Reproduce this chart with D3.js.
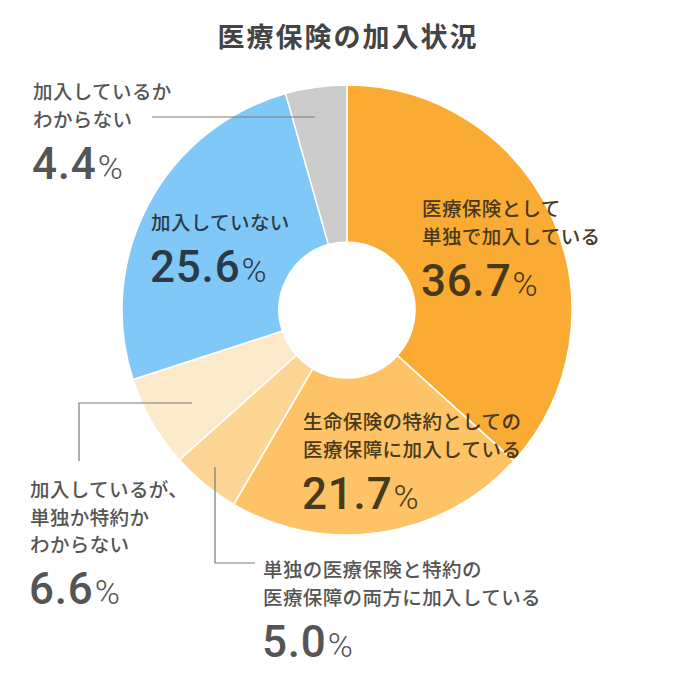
<!DOCTYPE html>
<html><head><meta charset="utf-8">
<script src="https://cdn.jsdelivr.net/npm/d3@7"></script>
<style>
html,body{margin:0;padding:0;background:#fff;}
svg{display:block;}
text{font-family:"Noto Sans CJK JP","Noto Sans",sans-serif;}
.num{font-family:Roboto,"Noto Sans",sans-serif;}
</style></head>
<body>
<svg id="chart" width="700" height="680"></svg>
<script>
// ---- data ----
const title = "医療保険の加入状況";
const categories = [
  ["医療保険として","単独で加入している"],
  ["生命保険の特約としての","医療保障に加入している"],
  ["単独の医療保険と特約の","医療保障の両方に加入している"],
  ["加入しているが、","単独か特約か","わからない"],
  ["加入していない"],
  ["加入しているか","わからない"]
];
const values = [36.7, 21.7, 5.0, 6.6, 25.6, 4.4];
const colors = ["#F9AB34", "#FDC366", "#FDD696", "#FDEACB", "#80C8F8", "#CCCCCC"];
const textColors = ["#47391B", "#47391B", "#555555", "#555555", "#2B3A47", "#555555"];

// ---- layout ----
const cx = 347, cy = 310, R = 225, r0 = 68;
const labelPos = [[422,216],[303,429],[263,577],[30,497],[151,230],[33,99]];
const leaders = [
  null, null,
  [[215,467],[215,563],[255,563]],
  [[192,403],[79,403],[79,461]],
  null,
  [[152,117],[315,117]]
];

const svg = d3.select("#chart");
svg.append("text").attr("x", 348).attr("y", 47).attr("text-anchor","middle")
  .attr("font-size", 27).attr("font-weight", 700).attr("letter-spacing", 2)
  .attr("fill", "#444").text(title);

const pie = d3.pie().sort(null).value(d => d);
const arc = d3.arc().innerRadius(r0).outerRadius(R);
const g = svg.append("g").attr("transform", `translate(${cx},${cy})`);
g.selectAll("path").data(pie(values)).join("path")
  .attr("d", arc).attr("fill", (d,i) => colors[i])
  .attr("stroke", "#fff").attr("stroke-width", 1.5);

const line = d3.line();
leaders.forEach(pts => {
  if (!pts) return;
  svg.append("path").attr("d", line(pts)).attr("fill","none")
    .attr("stroke", "#7a7a7a").attr("stroke-width", 1.2);
});

const lh = 27.5;
categories.forEach((lines, i) => {
  const [x, y] = labelPos[i];
  const t = svg.append("text").attr("fill", textColors[i])
    .attr("font-size", 19.5).attr("font-weight", 500).attr("letter-spacing", 0.4);
  lines.forEach((s, k) => {
    t.append("tspan").attr("x", x).attr("y", y + k*lh).text(s);
  });
  const ny = y + (lines.length - 1) * lh + 52;
  const n = svg.append("text").attr("class","num").attr("x", x - 1).attr("y", ny)
    .attr("fill", textColors[i]).attr("font-size", 44).attr("font-weight", 500)
    .attr("letter-spacing", 0.8);
  n.append("tspan").text(d3.format(".1f")(values[i]));
  n.append("tspan").attr("font-size", 34).attr("font-weight", 300).attr("dx", 1).text("%");
});
</script>
</body></html>
